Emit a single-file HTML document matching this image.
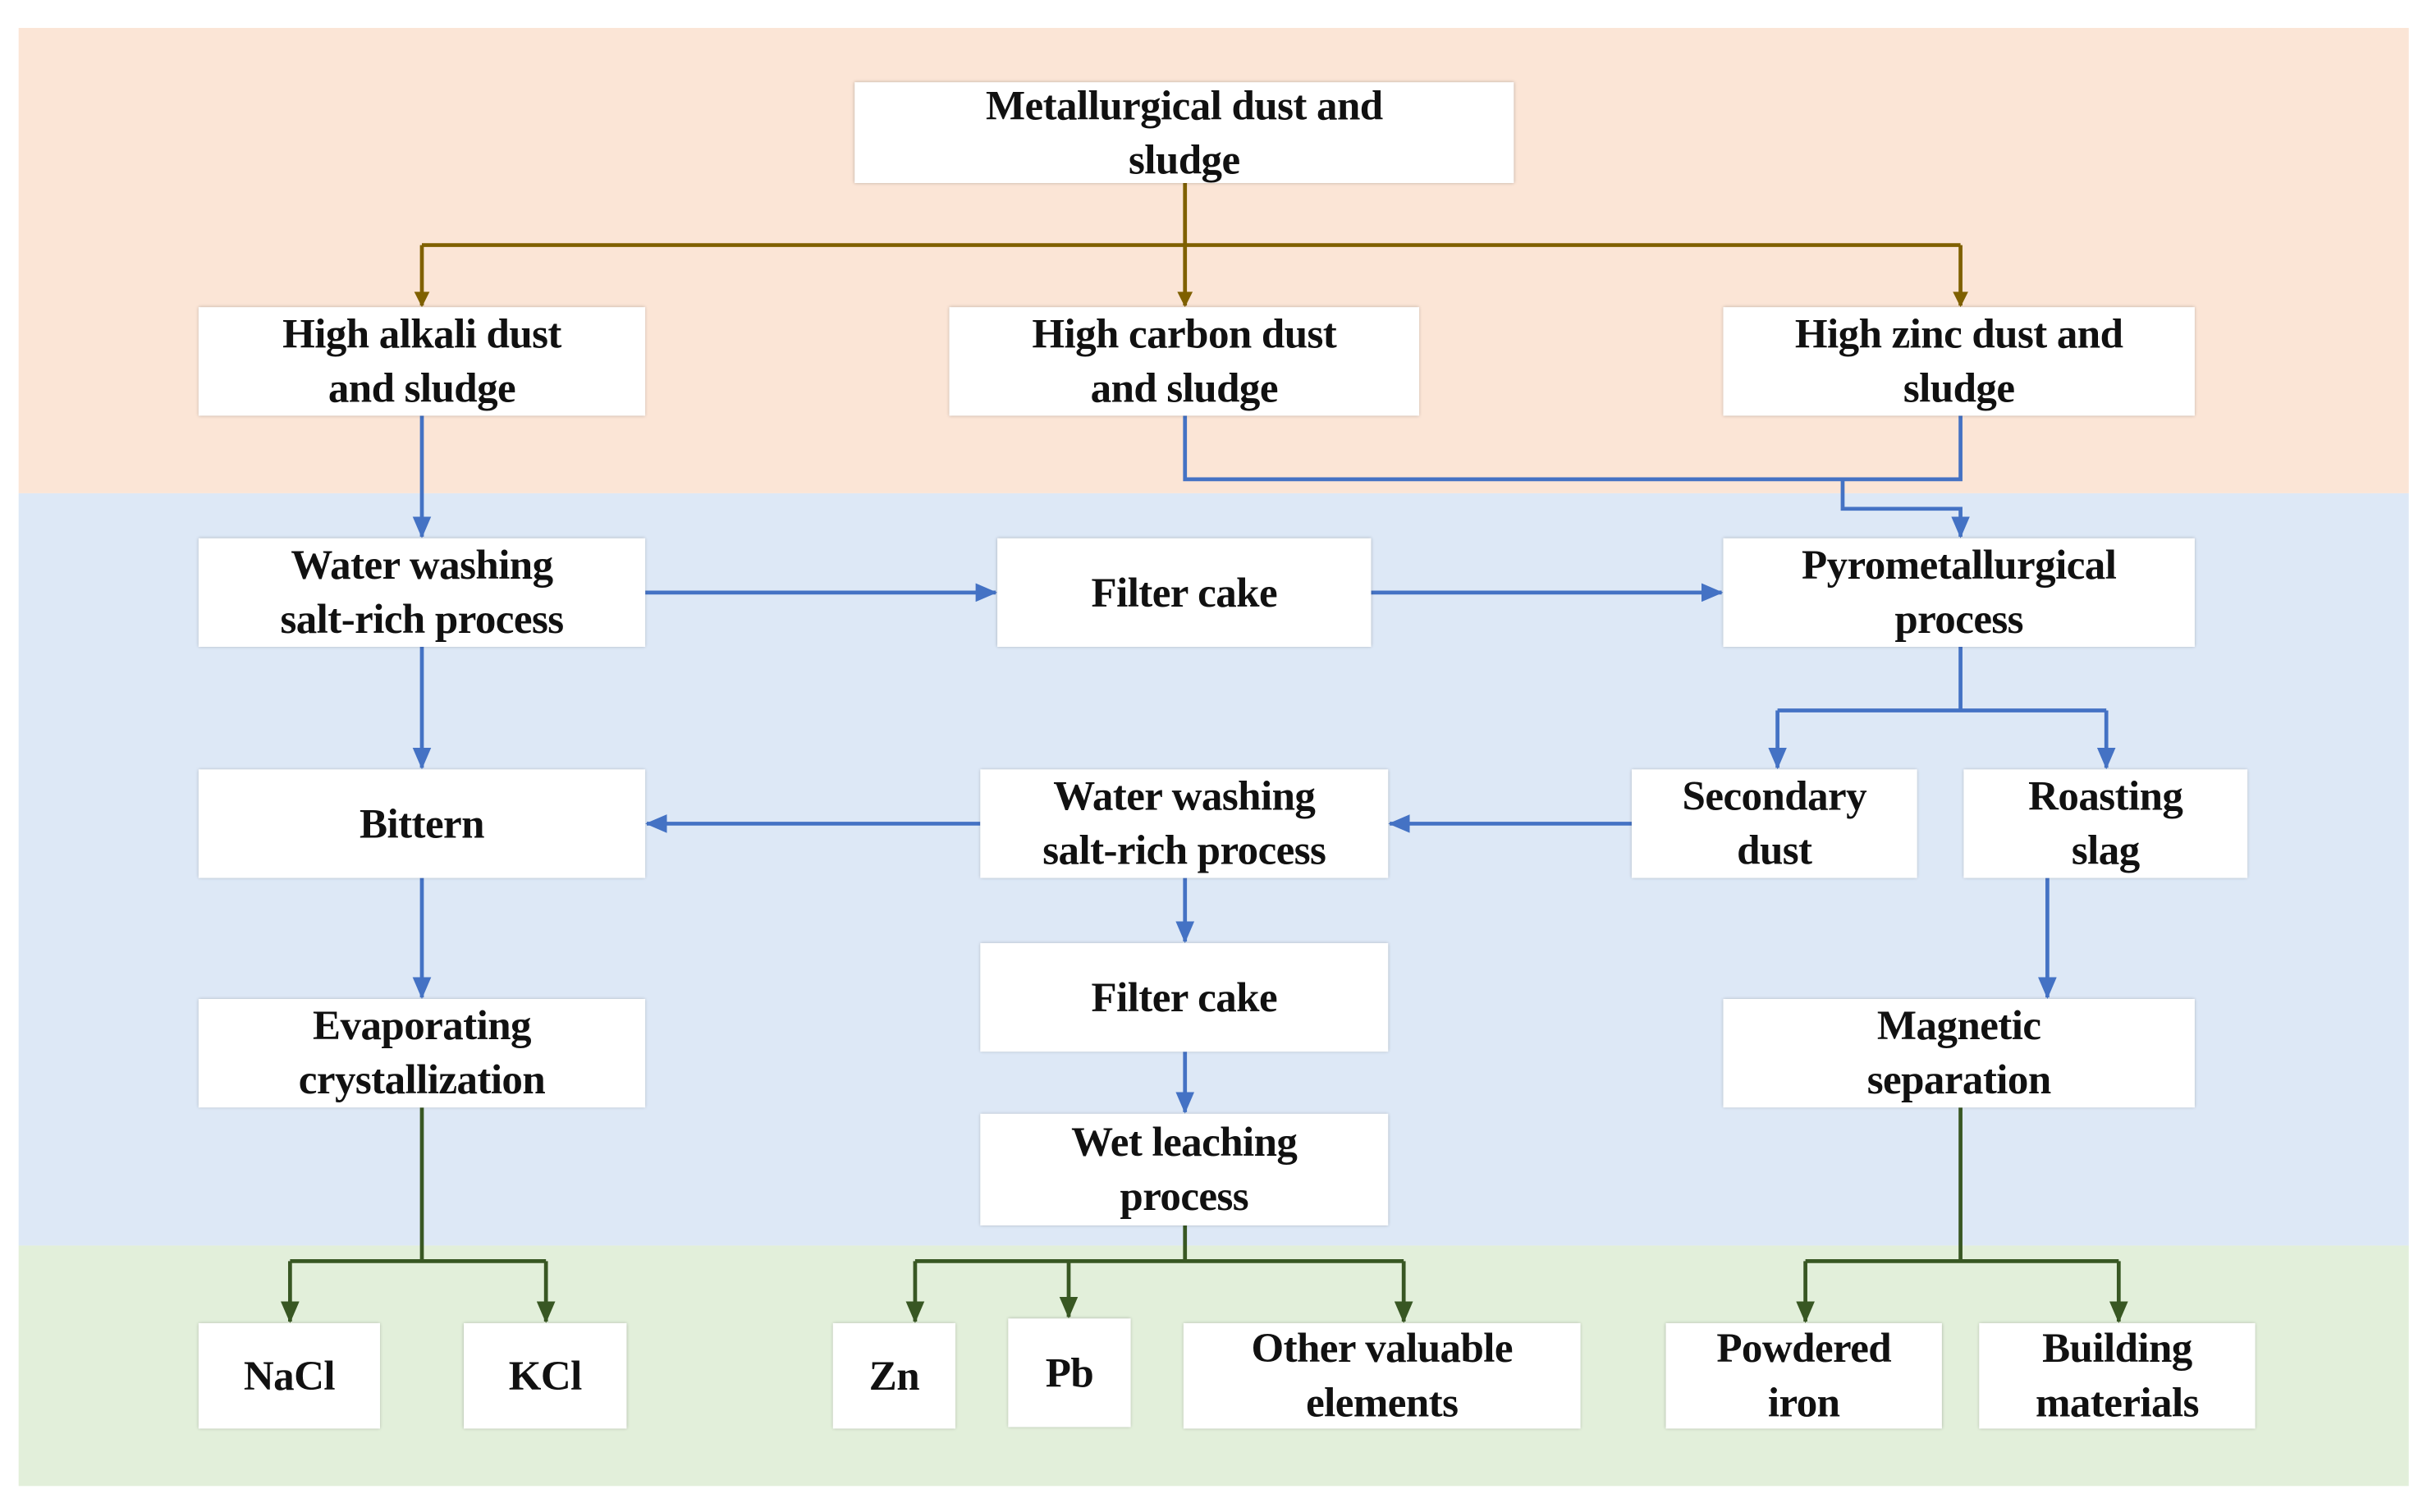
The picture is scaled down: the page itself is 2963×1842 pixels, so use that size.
<!DOCTYPE html>
<html><head><meta charset="utf-8">
<style>
html,body{margin:0;padding:0;background:#fff;}
body{width:2963px;height:1842px;overflow:hidden;position:relative;}
#c{position:absolute;left:0;top:0;width:1568px;height:975px;transform:scale(1.8897);transform-origin:0 0;}
.r{position:absolute;}
.b{position:absolute;background:#fff;box-shadow:0 0 2px rgba(0,0,0,0.25);display:flex;align-items:center;justify-content:center;text-align:center;font-family:"Liberation Serif",serif;font-weight:bold;font-size:27px;line-height:35px;color:#111;letter-spacing:-0.3px;}
svg{position:absolute;left:0;top:0;}
</style></head><body>
<div id="c">
<div class="r" style="left:12px;top:18px;width:1541px;height:300px;background:#fbe5d6"></div>
<div class="r" style="left:12px;top:318px;width:1541px;height:485px;background:#dde8f6"></div>
<div class="r" style="left:12px;top:803px;width:1541px;height:155px;background:#e2efda"></div>
<svg width="1568" height="975" viewBox="0 0 1568 975">
<defs>
<marker id="mb" markerWidth="10" markerHeight="10" refX="9" refY="5" orient="auto" markerUnits="userSpaceOnUse"><path d="M0,0 L10,5 L0,10 z" fill="#7f6000"/></marker>
<marker id="ml" markerWidth="14" markerHeight="12" refX="13" refY="6" orient="auto" markerUnits="userSpaceOnUse"><path d="M0,0 L14,6 L0,12 z" fill="#4472c4"/></marker>
<marker id="mg" markerWidth="14" markerHeight="12" refX="13" refY="6" orient="auto" markerUnits="userSpaceOnUse"><path d="M0,0 L14,6 L0,12 z" fill="#385723"/></marker>
</defs>
<g stroke="#7f6000" stroke-width="2.5" fill="none">
<line x1="764" y1="118" x2="764" y2="197" marker-end="url(#mb)"/>
<line x1="272" y1="158" x2="1264" y2="158"/>
<line x1="272" y1="158" x2="272" y2="197" marker-end="url(#mb)"/>
<line x1="1264" y1="158" x2="1264" y2="197" marker-end="url(#mb)"/>
</g>
<g stroke="#4472c4" stroke-width="2.5" fill="none">
<line x1="272" y1="268" x2="272" y2="346" marker-end="url(#ml)"/>
<polyline points="764,268 764,309 1264,309 1264,268"/>
<polyline points="1188,309 1188,328 1264,328 1264,346" marker-end="url(#ml)"/>
<line x1="416" y1="382" x2="642" y2="382" marker-end="url(#ml)"/>
<line x1="884" y1="382" x2="1110" y2="382" marker-end="url(#ml)"/>
<line x1="272" y1="417" x2="272" y2="495" marker-end="url(#ml)"/>
<line x1="1264" y1="417" x2="1264" y2="458"/>
<line x1="1146" y1="458" x2="1358" y2="458"/>
<line x1="1146" y1="458" x2="1146" y2="495" marker-end="url(#ml)"/>
<line x1="1358" y1="458" x2="1358" y2="495" marker-end="url(#ml)"/>
<line x1="1052" y1="531" x2="896" y2="531" marker-end="url(#ml)"/>
<line x1="632" y1="531" x2="417" y2="531" marker-end="url(#ml)"/>
<line x1="764" y1="566" x2="764" y2="607" marker-end="url(#ml)"/>
<line x1="764" y1="678" x2="764" y2="717" marker-end="url(#ml)"/>
<line x1="1320" y1="566" x2="1320" y2="643" marker-end="url(#ml)"/>
<line x1="272" y1="566" x2="272" y2="643" marker-end="url(#ml)"/>
</g>
<g stroke="#385723" stroke-width="2.5" fill="none">
<line x1="272" y1="714" x2="272" y2="813"/>
<line x1="187" y1="813" x2="352" y2="813"/>
<line x1="187" y1="813" x2="187" y2="852" marker-end="url(#mg)"/>
<line x1="352" y1="813" x2="352" y2="852" marker-end="url(#mg)"/>
<line x1="764" y1="790" x2="764" y2="813"/>
<line x1="590" y1="813" x2="905" y2="813"/>
<line x1="590" y1="813" x2="590" y2="852" marker-end="url(#mg)"/>
<line x1="689" y1="813" x2="689" y2="849" marker-end="url(#mg)"/>
<line x1="905" y1="813" x2="905" y2="852" marker-end="url(#mg)"/>
<line x1="1264" y1="714" x2="1264" y2="813"/>
<line x1="1164" y1="813" x2="1366" y2="813"/>
<line x1="1164" y1="813" x2="1164" y2="852" marker-end="url(#mg)"/>
<line x1="1366" y1="813" x2="1366" y2="852" marker-end="url(#mg)"/>
</g>
</svg>
<div class="b" style="left:551px;top:53px;width:425px;height:65px">Metallurgical dust and<br>sludge</div>
<div class="b" style="left:128px;top:198px;width:288px;height:70px">High alkali dust<br>and sludge</div>
<div class="b" style="left:612px;top:198px;width:303px;height:70px">High carbon dust<br>and sludge</div>
<div class="b" style="left:1111px;top:198px;width:304px;height:70px">High zinc dust and<br>sludge</div>
<div class="b" style="left:128px;top:347px;width:288px;height:70px">Water washing<br>salt-rich process</div>
<div class="b" style="left:643px;top:347px;width:241px;height:70px">Filter cake</div>
<div class="b" style="left:1111px;top:347px;width:304px;height:70px">Pyrometallurgical<br>process</div>
<div class="b" style="left:128px;top:496px;width:288px;height:70px">Bittern</div>
<div class="b" style="left:632px;top:496px;width:263px;height:70px">Water washing<br>salt-rich process</div>
<div class="b" style="left:1052px;top:496px;width:184px;height:70px">Secondary<br>dust</div>
<div class="b" style="left:1266px;top:496px;width:183px;height:70px">Roasting<br>slag</div>
<div class="b" style="left:128px;top:644px;width:288px;height:70px">Evaporating<br>crystallization</div>
<div class="b" style="left:632px;top:608px;width:263px;height:70px">Filter cake</div>
<div class="b" style="left:632px;top:718px;width:263px;height:72px">Wet leaching<br>process</div>
<div class="b" style="left:1111px;top:644px;width:304px;height:70px">Magnetic<br>separation</div>
<div class="b" style="left:128px;top:853px;width:117px;height:68px">NaCl</div>
<div class="b" style="left:299px;top:853px;width:105px;height:68px">KCl</div>
<div class="b" style="left:537px;top:853px;width:79px;height:68px">Zn</div>
<div class="b" style="left:650px;top:850px;width:79px;height:70px">Pb</div>
<div class="b" style="left:763px;top:853px;width:256px;height:68px">Other valuable<br>elements</div>
<div class="b" style="left:1074px;top:853px;width:178px;height:68px">Powdered<br>iron</div>
<div class="b" style="left:1276px;top:853px;width:178px;height:68px">Building<br>materials</div>
</div>
</body></html>
